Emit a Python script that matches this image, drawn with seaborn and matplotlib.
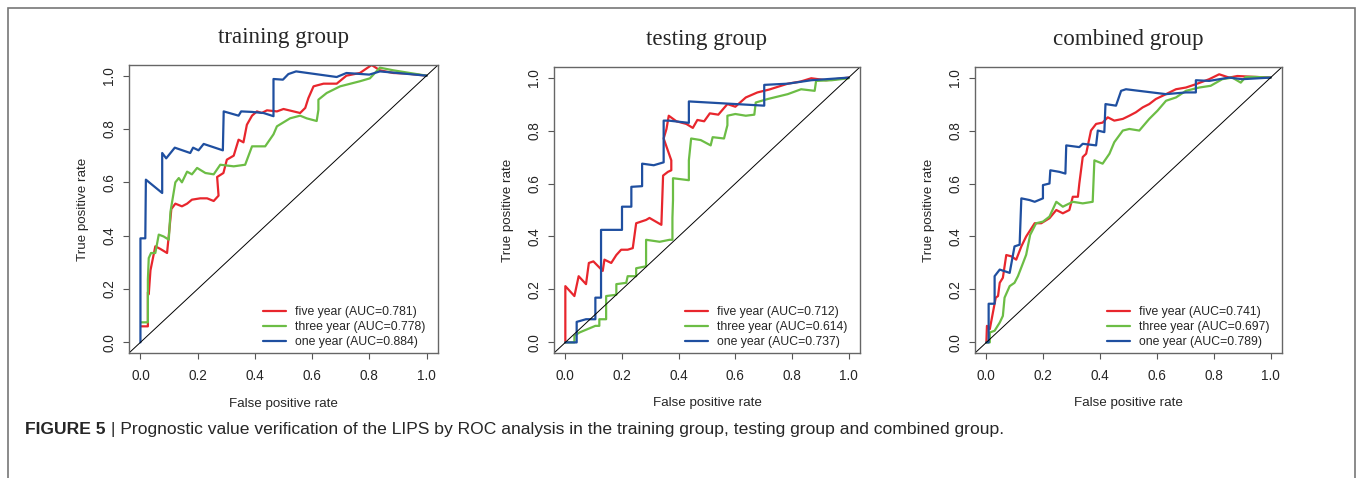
import numpy as np
import pandas as pd
import seaborn as sns
import matplotlib.pyplot as plt
from matplotlib.patches import Rectangle

panels = ['training group', 'testing group', 'combined group']
series = ['five year', 'three year', 'one year']
auc = {
    'training group': [0.781, 0.778, 0.884],
    'testing group': [0.712, 0.614, 0.737],
    'combined group': [0.741, 0.697, 0.789],
}
colors = ['#E8262D', '#6CBD45', '#1F4FA0']

# training group
train_five_x = [0.003, 0.026, 0.026, 0.029, 0.035, 0.052, 0.07, 0.093, 0.099, 0.108, 0.122, 0.145, 0.163, 0.18, 0.209, 0.233, 0.256, 0.273, 0.268, 0.29, 0.302, 0.326, 0.343, 0.36, 0.372, 0.39, 0.407, 0.424, 0.442, 0.477, 0.5, 0.535, 0.558, 0.576, 0.587, 0.605, 0.64, 0.686, 0.72, 0.767, 0.808, 0.837, 0.884, 0.93, 1.0]
train_five_y = [0.06, 0.06, 0.1875, 0.18, 0.27, 0.36, 0.35, 0.335, 0.40, 0.5, 0.52, 0.51, 0.52, 0.535, 0.54, 0.54, 0.53, 0.55, 0.62, 0.635, 0.685, 0.70, 0.76, 0.75, 0.816, 0.85, 0.866, 0.86, 0.87, 0.866, 0.875, 0.866, 0.86, 0.879, 0.916, 0.96, 0.97, 0.97, 1.0, 1.01, 1.04, 1.02, 1.01, 1.008, 1.0]
train_three_x = [0.003, 0.026, 0.026, 0.029, 0.037, 0.052, 0.064, 0.081, 0.099, 0.105, 0.122, 0.134, 0.145, 0.163, 0.18, 0.198, 0.227, 0.256, 0.279, 0.326, 0.366, 0.39, 0.436, 0.465, 0.477, 0.523, 0.558, 0.581, 0.616, 0.622, 0.622, 0.651, 0.698, 0.767, 0.802, 0.837, 0.884, 0.942, 1.0]
train_three_y = [0.075, 0.075, 0.235, 0.316, 0.335, 0.335, 0.404, 0.397, 0.385, 0.49, 0.60, 0.616, 0.60, 0.64, 0.63, 0.654, 0.635, 0.63, 0.666, 0.66, 0.666, 0.735, 0.735, 0.78, 0.81, 0.84, 0.85, 0.84, 0.83, 0.872, 0.91, 0.935, 0.96, 0.979, 0.99, 1.03, 1.02, 1.01, 1.0]
train_one_x = [0.0, 0.0, 0.017, 0.019, 0.076, 0.076, 0.09, 0.12, 0.174, 0.184, 0.203, 0.221, 0.288, 0.291, 0.343, 0.352, 0.39, 0.43, 0.465, 0.465, 0.498, 0.517, 0.544, 0.686, 0.72, 0.80, 0.837, 1.0]
train_one_y = [0.0, 0.39, 0.39, 0.61, 0.56, 0.71, 0.69, 0.73, 0.71, 0.73, 0.72, 0.744, 0.72, 0.866, 0.85, 0.866, 0.864, 0.86, 0.848, 0.9875, 0.985, 1.006, 1.016, 0.995, 1.01, 1.004, 1.016, 1.0]

# testing group
test_five_x = [0.0, 0.0, 0.032, 0.047, 0.073, 0.083, 0.099, 0.132, 0.138, 0.162, 0.18, 0.197, 0.22, 0.238, 0.25, 0.285, 0.297, 0.339, 0.345, 0.362, 0.374, 0.374, 0.347, 0.357, 0.365, 0.392, 0.427, 0.45, 0.466, 0.49, 0.51, 0.54, 0.572, 0.6, 0.637, 0.678, 0.72, 0.785, 0.83, 0.868, 0.92, 1.0]
test_five_y = [0.0, 0.2125, 0.175, 0.25, 0.22, 0.30, 0.306, 0.27, 0.3125, 0.30, 0.33, 0.35, 0.35, 0.356, 0.45, 0.4625, 0.47, 0.444, 0.63, 0.644, 0.65, 0.6875, 0.77, 0.806, 0.856, 0.835, 0.825, 0.81, 0.84, 0.835, 0.865, 0.86, 0.9, 0.89, 0.925, 0.944, 0.955, 0.977, 0.985, 0.9975, 0.99, 1.0]
test_three_x = [0.0, 0.032, 0.032, 0.05, 0.106, 0.12, 0.12, 0.144, 0.144, 0.18, 0.18, 0.215, 0.22, 0.25, 0.25, 0.285, 0.285, 0.333, 0.368, 0.378, 0.378, 0.38, 0.38, 0.436, 0.436, 0.444, 0.478, 0.513, 0.52, 0.56, 0.572, 0.572, 0.6, 0.637, 0.667, 0.672, 0.714, 0.785, 0.832, 0.88, 0.885, 0.94, 1.0]
test_three_y = [0.0, 0.0, 0.025, 0.0375, 0.0625, 0.0625, 0.0875, 0.0875, 0.175, 0.18, 0.22, 0.225, 0.25, 0.25, 0.28, 0.2875, 0.3875, 0.38, 0.3875, 0.3875, 0.47, 0.5375, 0.62, 0.6125, 0.6875, 0.77, 0.764, 0.744, 0.775, 0.77, 0.82, 0.856, 0.8625, 0.856, 0.86, 0.906, 0.919, 0.9375, 0.956, 0.95, 0.9875, 0.99, 0.9975]
test_one_x = [0.0, 0.04, 0.04, 0.073, 0.106, 0.106, 0.126, 0.126, 0.168, 0.2, 0.2, 0.233, 0.233, 0.271, 0.271, 0.312, 0.347, 0.347, 0.365, 0.436, 0.436, 0.702, 0.702, 0.785, 0.868, 1.0]
test_one_y = [0.0, 0.0, 0.0775, 0.0875, 0.0875, 0.169, 0.169, 0.425, 0.425, 0.425, 0.5125, 0.5125, 0.5875, 0.59, 0.675, 0.669, 0.68, 0.8375, 0.8375, 0.829, 0.91, 0.894, 0.9725, 0.977, 0.99, 1.0]

# combined group
comb_five_x = [0.0, 0.002, 0.012, 0.023, 0.033, 0.041, 0.047, 0.058, 0.07, 0.088, 0.105, 0.123, 0.14, 0.17, 0.193, 0.222, 0.246, 0.269, 0.292, 0.304, 0.322, 0.327, 0.339, 0.351, 0.368, 0.386, 0.409, 0.427, 0.45, 0.48, 0.503, 0.526, 0.55, 0.573, 0.596, 0.632, 0.667, 0.702, 0.737, 0.784, 0.819, 0.854, 0.883, 0.947, 1.0]
comb_five_y = [0.0, 0.0625, 0.05, 0.1125, 0.169, 0.175, 0.225, 0.244, 0.33, 0.325, 0.3125, 0.3625, 0.4, 0.45, 0.45, 0.469, 0.5, 0.4875, 0.5, 0.55, 0.55, 0.6, 0.7, 0.7125, 0.8, 0.825, 0.83, 0.85, 0.8375, 0.844, 0.856, 0.869, 0.8875, 0.9, 0.919, 0.9375, 0.956, 0.9625, 0.975, 0.994, 1.0125, 1.0, 1.006, 1.0025, 1.0]
comb_three_x = [0.0, 0.012, 0.012, 0.029, 0.047, 0.058, 0.064, 0.082, 0.099, 0.111, 0.129, 0.14, 0.154, 0.175, 0.199, 0.222, 0.246, 0.269, 0.304, 0.339, 0.374, 0.38, 0.409, 0.433, 0.45, 0.48, 0.503, 0.538, 0.573, 0.602, 0.632, 0.667, 0.702, 0.749, 0.789, 0.83, 0.865, 0.895, 0.912, 0.947, 1.0]
comb_three_y = [0.0, 0.0, 0.0375, 0.044, 0.075, 0.1, 0.169, 0.2125, 0.225, 0.25, 0.3, 0.331, 0.406, 0.45, 0.456, 0.475, 0.531, 0.5125, 0.531, 0.525, 0.531, 0.6875, 0.675, 0.7125, 0.756, 0.8, 0.806, 0.8, 0.844, 0.875, 0.9125, 0.925, 0.95, 0.9625, 0.969, 0.994, 1.0, 0.981, 1.0025, 1.0025, 1.0]
comb_one_x = [0.0, 0.008, 0.008, 0.029, 0.029, 0.047, 0.082, 0.099, 0.117, 0.123, 0.152, 0.17, 0.199, 0.199, 0.222, 0.225, 0.257, 0.278, 0.281, 0.327, 0.339, 0.386, 0.392, 0.415, 0.419, 0.456, 0.474, 0.491, 0.632, 0.702, 0.737, 0.737, 0.784, 0.854, 0.9, 1.0]
comb_one_y = [0.0, 0.0, 0.146, 0.146, 0.25, 0.275, 0.2625, 0.3625, 0.369, 0.544, 0.5375, 0.531, 0.544, 0.594, 0.6, 0.65, 0.644, 0.6375, 0.744, 0.7375, 0.75, 0.744, 0.8, 0.794, 0.9, 0.894, 0.95, 0.956, 0.9375, 0.944, 0.944, 0.99, 0.9875, 1.0, 0.994, 1.0]

curves = {
    'training group': [(train_five_x, train_five_y), (train_three_x, train_three_y), (train_one_x, train_one_y)],
    'testing group': [(test_five_x, test_five_y), (test_three_x, test_three_y), (test_one_x, test_one_y)],
    'combined group': [(comb_five_x, comb_five_y), (comb_three_x, comb_three_y), (comb_one_x, comb_one_y)],
}

rows = []
for p in panels:
    for s, a, (xs, ys) in zip(series, auc[p], curves[p]):
        lab = f'{s} (AUC={a:.3f})'
        for i, (x, y) in enumerate(zip(xs, ys)):
            rows.append({'panel': p, 'label': lab, 'order': i, 'fpr': x, 'tpr': y})
df = pd.DataFrame(rows)

sns.set_style('white')
plt.rcParams['font.family'] = ['Liberation Sans', 'DejaVu Sans']

fig = plt.figure(figsize=(13.58, 4.78), dpi=100)

# axes boxes in pixels: left, top, right, bottom
boxes = [(129, 65, 438, 353), (554, 67, 860, 353), (975, 67, 1282, 353)]
W, H = 1358, 478

for p, (l, t, r, b) in zip(panels, boxes):
    ax = fig.add_axes([l / W, 1 - b / H, (r - l) / W, (b - t) / H])
    sub = df[df.panel == p]
    labels = list(dict.fromkeys(sub.label))
    sns.lineplot(data=sub, x='fpr', y='tpr', hue='label', hue_order=labels,
                 palette=colors, sort=False, estimator=None, lw=1.6, ax=ax)
    ax.axline((0, 0), (1, 1), color='black', lw=0.7)
    ax.set_xlim(-0.04, 1.04)
    ax.set_ylim(-0.04, 1.04)
    ticks = [0, 0.2, 0.4, 0.6, 0.8, 1.0]
    ax.set_xticks(ticks)
    ax.set_yticks(ticks)
    ax.set_xticklabels([f'{v:.1f}' for v in ticks], fontsize=9.8)
    ax.set_yticklabels([f'{v:.1f}' for v in ticks], fontsize=9.8, rotation=90, va='center')
    ax.tick_params(axis='both', direction='out', length=4.3, width=0.8, color='#555555',
                   bottom=True, left=True)
    ax.tick_params(axis='x', pad=7)
    ax.tick_params(axis='y', pad=5)
    for sp in ax.spines.values():
        sp.set_color('#666666')
        sp.set_linewidth(1.0)
    ax.set_xlabel('False positive rate', fontsize=9.6)
    ax.set_ylabel('True positive rate', fontsize=9.6)
    ax.xaxis.set_label_coords(0.5, -0.155)
    ax.yaxis.set_label_coords(-0.13, 0.5)
    ax.set_title(p, fontsize=16.6, family='Liberation Serif', pad=16)
    ax.legend(loc='lower right', bbox_to_anchor=(0.958, 0.018), frameon=False,
              fontsize=8.8, handlelength=1.9, handletextpad=0.7, labelspacing=0.22,
              borderaxespad=0, borderpad=0)

fig.add_artist(Rectangle((8 / W, -0.1), (1355 - 8) / W, 1.1 - 8 / H,
                         transform=fig.transFigure, fill=False, ec='#777777', lw=1.2))

t1 = fig.text(25 / W, 0.101, 'FIGURE 5', fontsize=12.6, weight='bold', va='center')
fig.axes[0].annotate(' | Prognostic value verification of the LIPS by ROC analysis in the training group, testing group and combined group.',
                     xy=(1, 0.5), xycoords=t1, va='center', fontsize=12.6,
                     annotation_clip=False)

fig.savefig('out.png', dpi=100)
